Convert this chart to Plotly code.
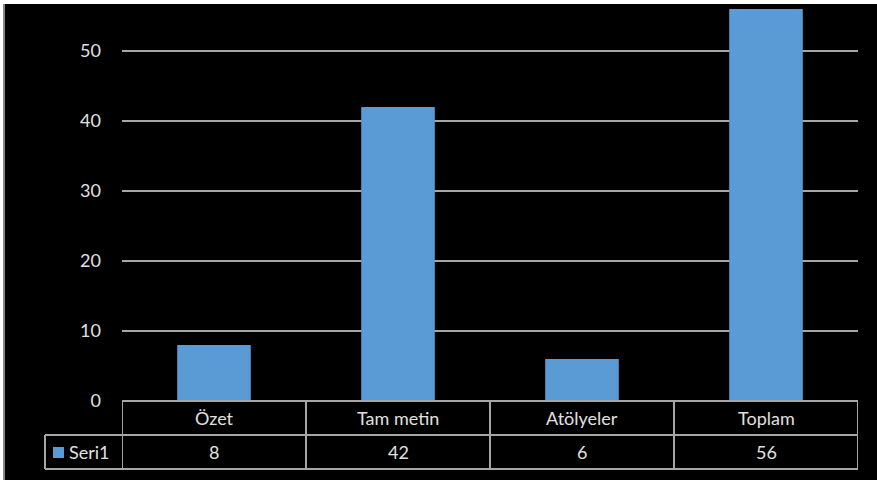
import plotly.graph_objects as go

categories = ["Özet", "Tam metin", "Atölyeler", "Toplam"]
series_name = "Seri1"
values = [8, 42, 6, 56]
y_ticks = [0, 10, 20, 30, 40, 50]

W, H = 877, 480
L, R, T, B = 122, 19, 5, 79
pw, ph = W - L - R, H - T - B

def px_x(p):
    return (p - L) / pw

def px_y(p):
    return (H - B - p) / ph

BAR = "#5B9BD5"
TXT = "#e0e0e0"
LINE = "#a6a6a6"
FONT = "Lato, 'Open Sans', sans-serif"
FS = 18

fig = go.Figure()
fig.add_trace(go.Bar(x=categories, y=values, name=series_name,
                     marker=dict(color=BAR, line=dict(width=0)),
                     showlegend=False))

shapes = []
annotations = []
row1 = px_y(435)
row2 = px_y(469)
shapes.append(dict(type="line", xref="paper", yref="paper", x0=0, x1=1, y0=0, y1=0,
                   line=dict(color=LINE, width=2)))
shapes.append(dict(type="line", xref="paper", yref="paper", x0=px_x(45), x1=1, y0=row1, y1=row1,
                   line=dict(color=LINE, width=2)))
shapes.append(dict(type="line", xref="paper", yref="paper", x0=px_x(45), x1=1, y0=row2, y1=row2,
                   line=dict(color=LINE, width=2)))
n = len(categories)
for i in range(n + 1):
    shapes.append(dict(type="line", xref="x", yref="paper", x0=i - 0.5, x1=i - 0.5, y0=0, y1=row2,
                       line=dict(color=LINE, width=2)))
shapes.append(dict(type="line", xref="paper", yref="paper", x0=px_x(45), x1=px_x(45), y0=row1, y1=row2,
                   line=dict(color=LINE, width=2)))
shapes.append(dict(type="rect", xref="paper", yref="paper", x0=px_x(53), x1=px_x(64),
                   y0=px_y(458), y1=px_y(447), fillcolor=BAR, line=dict(width=0)))
annotations.append(dict(xref="paper", yref="paper", x=px_x(67), y=(row1 + row2) / 2,
                        text=series_name, showarrow=False, xanchor="left", yanchor="middle",
                        font=dict(color=TXT, size=FS, family=FONT)))
for c, v in zip(categories, values):
    annotations.append(dict(xref="x", yref="paper", x=c, y=(0 + row1) / 2, text=c,
                            showarrow=False, yanchor="middle",
                            font=dict(color=TXT, size=FS, family=FONT)))
    annotations.append(dict(xref="x", yref="paper", x=c, y=(row1 + row2) / 2, text=str(v),
                            showarrow=False, yanchor="middle",
                            font=dict(color=TXT, size=FS, family=FONT)))
shapes.append(dict(type="rect", xref="paper", yref="paper", x0=px_x(0), x1=px_x(3),
                   y0=px_y(480), y1=px_y(0), fillcolor="white", line=dict(width=0), layer="above"))
shapes.append(dict(type="rect", xref="paper", yref="paper", x0=px_x(3), x1=px_x(5),
                   y0=px_y(480), y1=px_y(0), fillcolor="#888888", line=dict(width=0), layer="above"))
shapes.append(dict(type="rect", xref="paper", yref="paper", x0=px_x(0), x1=px_x(877),
                   y0=px_y(4), y1=px_y(0), fillcolor="white", line=dict(width=0), layer="above"))

fig.update_layout(
    width=W, height=H,
    margin=dict(l=L, r=R, t=T, b=B, pad=0),
    paper_bgcolor="black", plot_bgcolor="black",
    bargap=0.6,
    shapes=shapes, annotations=annotations,
    showlegend=False,
    font=dict(family=FONT, color=TXT, size=FS),
)
fig.update_xaxes(showticklabels=False, showgrid=False, zeroline=False, showline=False,
                 range=[-0.5, n - 0.5])
fig.update_yaxes(range=[0, (H - B - T) / 7.0], tickvals=y_ticks, showgrid=True,
                 gridcolor=LINE, gridwidth=2, zeroline=False, showline=False,
                 ticklabelstandoff=20, tickfont=dict(size=FS, color=TXT, family=FONT))

fig.write_html("out.html", config={"displayModeBar": False},
               post_script="document.body.style.margin='0';document.body.style.background='black';document.body.style.overflow='hidden';")
